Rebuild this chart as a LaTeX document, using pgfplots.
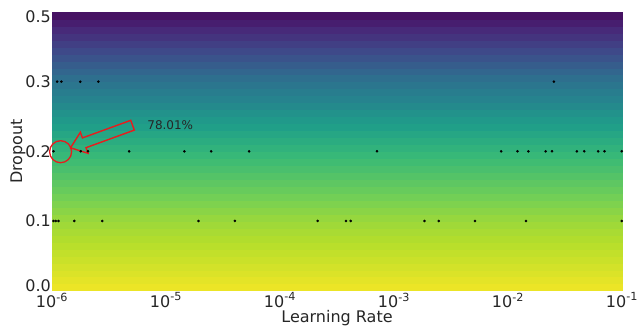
\documentclass[border=0pt]{standalone}
\usepackage{pgfplots}
\pgfplotsset{compat=1.18}
\usepackage{fontspec}
\setmainfont{DejaVu Sans}
\usetikzlibrary{shapes.arrows}
\definecolor{annred}{RGB}{232,28,28}
\pgfplotsset{colormap={vir}{rgb255=(68,1,84) rgb255=(72,40,120) rgb255=(62,73,137) rgb255=(49,104,142) rgb255=(38,130,142) rgb255=(31,158,137) rgb255=(53,183,121) rgb255=(110,206,88) rgb255=(181,222,43) rgb255=(253,231,37)}}
\begin{document}
\begin{tikzpicture}
\useasboundingbox (-52pt,-35.4pt) rectangle (589pt,290.6pt);
\begin{axis}[
  scale only axis,
  width=570pt, height=278.6pt,
  xmode=log,
  xmin=1e-6, xmax=1e-1,
  ymin=0, ymax=0.4,
  clip=false,
  axis line style={draw=none},
  tick style={draw=none},
  major tick length=0pt,
  minor tick num=0,
  xtick={1e-6,1e-5,1e-4,1e-3,1e-2,1e-1},
  xticklabels={10\textsuperscript{-6},10\textsuperscript{-5},10\textsuperscript{-4},10\textsuperscript{-3},10\textsuperscript{-2},10\textsuperscript{-1}},
  ytick={0.0066,0.1,0.2,0.3,0.3933},
  yticklabels={0.0,0.1,0.2,0.3,0.5},
  tick label style={font=\fontsize{16}{19}\selectfont, text=black!85},
  yticklabel style={inner xsep=1pt},
  xticklabel style={inner ysep=2pt},
  label style={font=\fontsize{16}{19}\selectfont, text=black!85},
  xlabel={Learning Rate},
  ylabel={Dropout},
  xlabel style={at={(axis description cs:0.5,-0.097)}, anchor=center, inner sep=0pt},
  ylabel style={at={(axis description cs:-0.0596,0.5)}, anchor=center},
  colormap name=vir,
  point meta min=0, point meta max=1,
]
\addplot[surf, shader=flat mean, point meta=explicit, mesh/cols=2, draw=none] coordinates {
(1e-6,0.00) [0.980] (1e-1,0.00) [0.980]
(1e-6,0.01) [0.967] (1e-1,0.01) [0.967]
(1e-6,0.02) [0.954] (1e-1,0.02) [0.954]
(1e-6,0.03) [0.941] (1e-1,0.03) [0.941]
(1e-6,0.04) [0.928] (1e-1,0.04) [0.928]
(1e-6,0.05) [0.915] (1e-1,0.05) [0.915]
(1e-6,0.06) [0.902] (1e-1,0.06) [0.902]
(1e-6,0.07) [0.889] (1e-1,0.07) [0.889]
(1e-6,0.08) [0.876] (1e-1,0.08) [0.876]
(1e-6,0.09) [0.863] (1e-1,0.09) [0.863]
(1e-6,0.10) [0.850] (1e-1,0.10) [0.850]
(1e-6,0.11) [0.831] (1e-1,0.11) [0.831]
(1e-6,0.12) [0.812] (1e-1,0.12) [0.812]
(1e-6,0.13) [0.793] (1e-1,0.13) [0.793]
(1e-6,0.14) [0.774] (1e-1,0.14) [0.774]
(1e-6,0.15) [0.755] (1e-1,0.15) [0.755]
(1e-6,0.16) [0.736] (1e-1,0.16) [0.736]
(1e-6,0.17) [0.717] (1e-1,0.17) [0.717]
(1e-6,0.18) [0.698] (1e-1,0.18) [0.698]
(1e-6,0.19) [0.679] (1e-1,0.19) [0.679]
(1e-6,0.20) [0.660] (1e-1,0.20) [0.660]
(1e-6,0.21) [0.632] (1e-1,0.21) [0.632]
(1e-6,0.22) [0.604] (1e-1,0.22) [0.604]
(1e-6,0.23) [0.576] (1e-1,0.23) [0.576]
(1e-6,0.24) [0.548] (1e-1,0.24) [0.548]
(1e-6,0.25) [0.520] (1e-1,0.25) [0.520]
(1e-6,0.26) [0.492] (1e-1,0.26) [0.492]
(1e-6,0.27) [0.464] (1e-1,0.27) [0.464]
(1e-6,0.28) [0.436] (1e-1,0.28) [0.436]
(1e-6,0.29) [0.408] (1e-1,0.29) [0.408]
(1e-6,0.30) [0.380] (1e-1,0.30) [0.380]
(1e-6,0.31) [0.345] (1e-1,0.31) [0.345]
(1e-6,0.32) [0.310] (1e-1,0.32) [0.310]
(1e-6,0.33) [0.275] (1e-1,0.33) [0.275]
(1e-6,0.34) [0.240] (1e-1,0.34) [0.240]
(1e-6,0.35) [0.205] (1e-1,0.35) [0.205]
(1e-6,0.36) [0.170] (1e-1,0.36) [0.170]
(1e-6,0.37) [0.135] (1e-1,0.37) [0.135]
(1e-6,0.38) [0.100] (1e-1,0.38) [0.100]
(1e-6,0.39) [0.065] (1e-1,0.39) [0.065]
(1e-6,0.40) [0.030] (1e-1,0.40) [0.030]
};
% sampled trials
\addplot[only marks, mark=*, mark size=1.1pt, black] coordinates {
(1.11e-6,0.3) (1.21e-6,0.3) (1.77e-6,0.3) (2.55e-6,0.3) (2.53e-2,0.3)
};
\addplot[only marks, mark=*, mark size=1.1pt, black] coordinates {
(1.03e-6,0.2) (1.79e-6,0.2) (2.07e-6,0.2) (4.75e-6,0.2) (1.45e-5,0.2) (2.49e-5,0.2)
(5.36e-5,0.2) (7.10e-4,0.2) (8.71e-3,0.2) (1.21e-2,0.2) (1.51e-2,0.2) (2.14e-2,0.2)
(2.43e-2,0.2) (4.02e-2,0.2) (4.66e-2,0.2) (6.18e-2,0.2) (7.03e-2,0.2) (9.95e-2,0.2)
};
\addplot[only marks, mark=*, mark size=1.1pt, black] coordinates {
(1.03e-6,0.1) (1.08e-6,0.1) (1.14e-6,0.1) (1.57e-6,0.1) (2.76e-6,0.1) (1.93e-5,0.1)
(4.02e-5,0.1) (2.14e-4,0.1) (3.79e-4,0.1) (4.17e-4,0.1) (1.85e-3,0.1) (2.47e-3,0.1)
(5.13e-3,0.1) (1.44e-2,0.1) (9.95e-2,0.1)
};
% best trial highlight
\addplot[only marks, mark=o, mark size=11pt, annred, mark options={line width=1.3pt}] coordinates {(1.19e-6,0.1994)};
\node[single arrow, draw=annred, line width=1.4pt, fill=none, minimum height=66pt,
      inner xsep=0pt, inner ysep=4.5pt, single arrow head extend=6pt,
      single arrow tip angle=75, rotate=200] at (axis cs:2.90e-6,0.2229) {};
\node[font=\fontsize{12}{14}\selectfont, text=black!85, anchor=center] at (axis cs:1.09e-5,0.2378) {78.01\%};
\end{axis}
\end{tikzpicture}
\end{document}
